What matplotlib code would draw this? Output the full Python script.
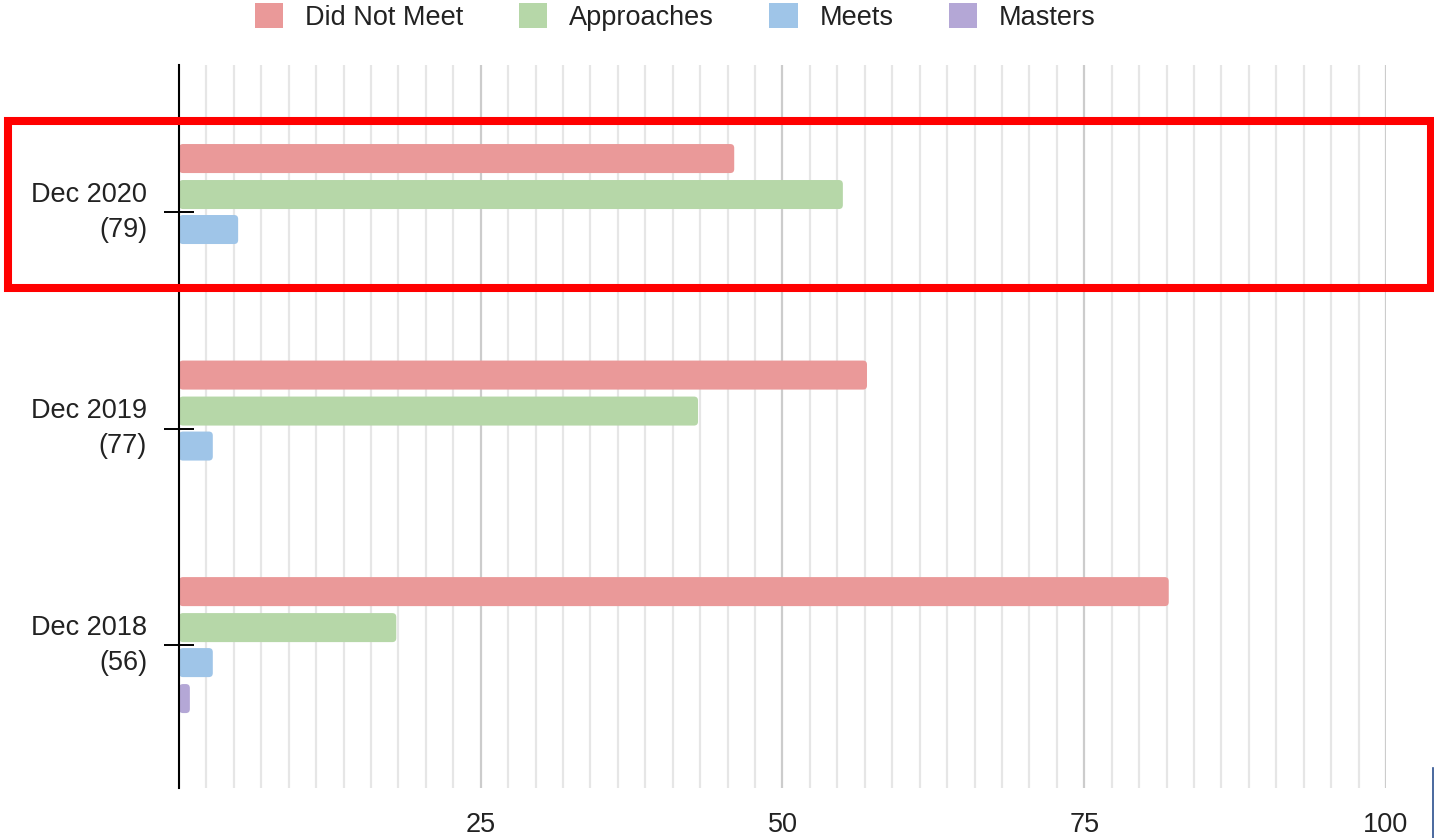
import numpy as np
import matplotlib
matplotlib.use("Agg")
import matplotlib.pyplot as plt
from matplotlib.patches import FancyBboxPatch, Rectangle, Patch
from matplotlib.lines import Line2D
from matplotlib.ticker import AutoMinorLocator, FixedLocator

# ---- data -------------------------------------------------------------
categories = ["Dec 2020\n(79)", "Dec 2019\n(77)", "Dec 2018\n(56)"]
series_names = ["Did Not Meet", "Approaches", "Meets", "Masters"]
did_not_meet = [46, 57, 82]
approaches = [55, 43, 18]
meets = [4.9, 2.8, 2.8]
masters = [0, 0, 0.9]
x_ticks = [25, 50, 75, 100]
x_tick_labels = ["25", "50", "75", "100"]

colors = ["#ea9999", "#b6d7a8", "#9fc5e8", "#b4a7d6"]

plt.rcParams["font.family"] = ["Liberation Sans", "DejaVu Sans"]
FS = 19.5

W, H, DPI = 1434, 838, 100
fig = plt.figure(figsize=(W / DPI, H / DPI), dpi=DPI)
left, right, top, bottom = 179, 1386, 65, 788
ax = fig.add_axes([left / W, 1 - bottom / H, (right - left) / W, (bottom - top) / H])

xlim = (0, 100)
ylim = (2.66, -0.679)
ax.set_xlim(*xlim)
ax.set_ylim(*ylim)

# pixel scale of data units, used to keep the bar corners round
px_x = (right - left) / (xlim[1] - xlim[0])
px_y = (bottom - top) / abs(ylim[0] - ylim[1])
radius_px = 4
r = radius_px / px_x
aspect = px_x / px_y

offsets = [-0.247, -0.0808, 0.0808, 0.247]
bar_h = 0.134
y = np.arange(len(categories))
all_series = [did_not_meet, approaches, meets, masters]

for vals, off, col in zip(all_series, offsets, colors):
    bars = ax.barh(y + off, vals, height=bar_h, color=col, zorder=3)
    for b in bars:
        x0, y0 = b.get_x(), b.get_y()
        w, h = b.get_width(), b.get_height()
        b.set_visible(False)
        if w <= 0:
            continue
        rr = min(r, w / 2)
        p = FancyBboxPatch((x0, y0), w, h,
                           boxstyle=f"round,pad=0,rounding_size={rr}",
                           mutation_aspect=aspect, facecolor=col,
                           edgecolor="none", zorder=3)
        ax.add_patch(p)

# gridlines
ax.xaxis.set_major_locator(FixedLocator(x_ticks))
ax.set_xticklabels(x_tick_labels)
ax.xaxis.set_minor_locator(AutoMinorLocator(11))
ax.grid(True, which="major", axis="x", color="#cccccc", lw=1.6, zorder=0)
ax.grid(True, which="minor", axis="x", color="#e6e6e6", lw=1.6, zorder=0)
ax.set_axisbelow(True)
ax.tick_params(axis="x", which="both", length=0, labelsize=FS, pad=17,
               labelcolor="#222222")

ax.set_yticks(y)
ax.set_yticklabels(categories, linespacing=1.45)
ax.tick_params(axis="y", direction="inout", length=21, width=1.4,
               labelsize=FS, pad=12.5, color="black", labelcolor="#222222")
for t in ax.get_yticklabels():
    t.set_multialignment("right")
    t.set_verticalalignment("center")

for s in ["top", "right", "bottom"]:
    ax.spines[s].set_visible(False)
ax.spines["left"].set_color("black")
ax.spines["left"].set_linewidth(1.5)
ax.spines["left"].set_zorder(5)

# legend
handles = [Patch(facecolor=c, edgecolor="none", label=n)
           for c, n in zip(colors, series_names)]
fig.legend(handles=handles, loc="center left",
           bbox_to_anchor=(255 / W, 1 - 17 / H), ncol=4, frameon=False,
           fontsize=FS, handlelength=1.05, handleheight=1.05,
           handletextpad=0.8, columnspacing=2.05, borderpad=0,
           borderaxespad=0, labelcolor="#222222")

# highlight frame around the latest year
fig.add_artist(Rectangle((8 / W, 1 - 288 / H), (1431 - 8) / W, (288 - 121) / H,
                         transform=fig.transFigure, fill=False,
                         edgecolor="#ff0000", lw=5.8, zorder=10))
fig.add_artist(Line2D([1433 / W, 1433 / W], [0, 1 - 768 / H],
                      transform=fig.transFigure, color="#2b4f8e", lw=1.2))

fig.savefig("out.png", dpi=DPI)
